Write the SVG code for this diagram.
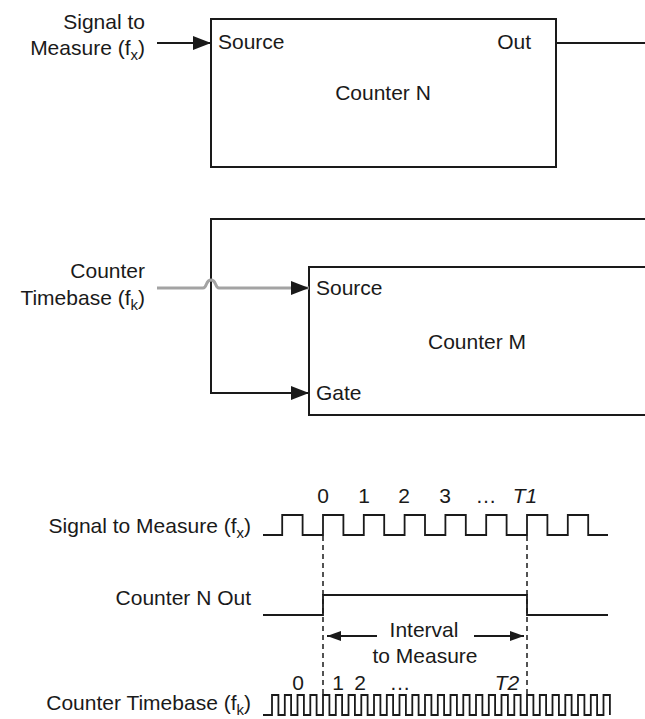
<svg xmlns="http://www.w3.org/2000/svg" width="645" height="719" viewBox="0 0 645 719">
<style>
text{font-family:"Liberation Sans",Arial,sans-serif;font-size:21px;fill:#1a1a1a}
.sub{font-size:15px}
.box{fill:#fff;stroke:#1a1a1a;stroke-width:2}
.ln{fill:none;stroke:#1a1a1a;stroke-width:2}
.gray{fill:none;stroke:#a3a3a3;stroke-width:3}
.wave{fill:none;stroke:#1a1a1a;stroke-width:1.8}
.dash{fill:none;stroke:#1a1a1a;stroke-width:1.5;stroke-dasharray:5 4}
.end{text-anchor:end}
.mid{text-anchor:middle}
</style>
<defs>
<marker id="ah" viewBox="0 0 18 14" markerWidth="18" markerHeight="14" refX="18" refY="7" markerUnits="userSpaceOnUse" orient="auto"><path d="M0,0 L18,7 L0,14 z" fill="#1a1a1a"/></marker>
<marker id="ahs" viewBox="0 0 14 10" markerWidth="14" markerHeight="10" refX="14" refY="5" markerUnits="userSpaceOnUse" orient="auto"><path d="M0,0 L14,5 L0,10 z" fill="#1a1a1a"/></marker>
</defs>

<g id="label-signal">
<text class="end" x="145" y="29">Signal to</text>
<text class="end" x="145" y="55">Measure (f<tspan class="sub" dy="5">x</tspan><tspan dy="-5">)</tspan></text>
</g>
<g id="counter-n">
<rect class="box" x="211" y="19" width="345" height="148"/>
<text x="218" y="49">Source</text>
<text class="end" x="531" y="49">Out</text>
<text class="mid" x="383" y="100">Counter N</text>
</g>
<g id="label-timebase">
<text class="end" x="145" y="278">Counter</text>
<text class="end" x="145" y="305">Timebase (f<tspan class="sub" dy="5">k</tspan><tspan dy="-5">)</tspan></text>
</g>
<g id="counter-m">
<rect class="box" x="309" y="267" width="360" height="148"/>
<text x="316" y="295">Source</text>
<text class="mid" x="477" y="349">Counter M</text>
<text x="316" y="400">Gate</text>
</g>

<g id="connectors">
<path class="ln" d="M157,43 H211" marker-end="url(#ah)"/>
<path class="ln" d="M556,43 H645"/>
<path class="ln" d="M645,219 H211 V393 H309" marker-end="url(#ah)"/>
<path class="gray" d="M157,288 H203 Q205,288 206.5,284 Q208,280 211,280 Q214,280 215.5,284 Q217,288 219,288 H309" marker-end="url(#ah)"/>
</g>

<g id="timing">
<text class="end" x="251" y="533">Signal to Measure (f<tspan class="sub" dy="5">x</tspan><tspan dy="-5">)</tspan></text>
<text class="mid" x="323" y="503">0</text>
<text class="mid" x="364" y="503">1</text>
<text class="mid" x="404" y="503">2</text>
<text class="mid" x="445" y="503">3</text>
<text class="mid" x="486" y="503">…</text>
<text class="mid" x="525" y="503" font-style="italic">T1</text>
<path class="wave" d="M263,535 H282.2 V515 H302.6 V535 H323 V515 H343.4 V535 H363.8 V515 H384.2 V535 H404.6 V515 H425 V535 H445.4 V515 H465.8 V535 H486.2 V515 H506.6 V535 H527 V515 H547.4 V535 H567.8 V515 H588.2 V535 H608"/>

<text class="end" x="251" y="605">Counter N Out</text>
<path class="wave" d="M263,615 H323 V595 H527 V615 H608"/>

<path class="dash" d="M323,536 V695"/>
<path class="dash" d="M527,536 V695"/>

<path class="ln" d="M377,636 H327" marker-end="url(#ahs)"/>
<path class="ln" d="M474,636 H524" marker-end="url(#ahs)"/>
<text class="mid" x="424" y="637">Interval</text>
<text class="mid" x="425" y="663">to Measure</text>

<text class="end" x="251" y="710">Counter Timebase (f<tspan class="sub" dy="5">k</tspan><tspan dy="-5">)</tspan></text>
<text class="mid" x="298" y="690">0</text>
<text class="mid" x="338" y="690">1</text>
<text class="mid" x="360" y="690">2</text>
<text class="mid" x="400" y="690">…</text>
<text class="mid" x="507" y="690" font-style="italic">T2</text>
<path class="wave" d="M263,715 H272 V695 H278.4 V715 H284.8 V695 H291.1 V715 H297.5 V695 H303.9 V715 H310.3 V695 H316.6 V715 H323 V695 H329.4 V715 H335.8 V695 H342.1 V715 H348.5 V695 H354.9 V715 H361.3 V695 H367.6 V715 H374 V695 H380.4 V715 H386.8 V695 H393.1 V715 H399.5 V695 H405.9 V715 H412.3 V695 H418.6 V715 H425 V695 H431.4 V715 H437.8 V695 H444.1 V715 H450.5 V695 H456.9 V715 H463.3 V695 H469.6 V715 H476 V695 H482.4 V715 H488.8 V695 H495.1 V715 H501.5 V695 H507.9 V715 H514.3 V695 H520.6 V715 H527 V695 H533.4 V715 H539.8 V695 H546.1 V715 H552.5 V695 H558.9 V715 H565.3 V695 H571.6 V715 H578 V695 H584.4 V715 H590.8 V695 H597.1 V715 H603.5 V695 H609.9 V715"/>
</g>
</svg>
